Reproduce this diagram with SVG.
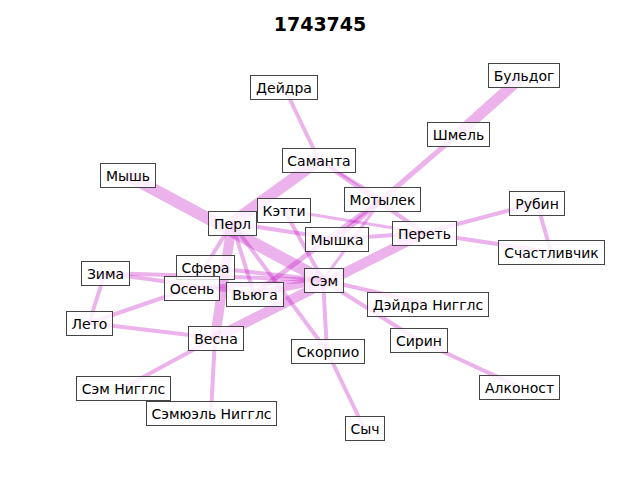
<svg xmlns="http://www.w3.org/2000/svg" width="640" height="480" viewBox="0 0 640 480">
<style>
.e{stroke:#bf00bf;stroke-opacity:0.3;fill:none}
.n rect{fill:#fff;fill-opacity:0.8;stroke:#444;stroke-width:1}
.n text{font-family:"DejaVu Sans",sans-serif;font-size:14px;fill:#000;text-anchor:middle;dominant-baseline:central}
.t{font-family:"DejaVu Sans",sans-serif;font-size:19px;font-weight:bold;text-anchor:middle}
</style>
<rect width="640" height="480" fill="#fff"/>
<text class="t" x="320" y="31">1743745</text>
<g id="edges">
<line class="e" stroke-width="4" x1="284" y1="87" x2="319" y2="160"/>
<line class="e" stroke-width="3" x1="319" y1="160" x2="382" y2="199"/>
<line class="e" stroke-width="4" x1="319" y1="160" x2="424" y2="233"/>
<line class="e" stroke-width="11" x1="524" y1="75" x2="458" y2="134"/>
<line class="e" stroke-width="5" x1="458" y1="134" x2="336" y2="239"/>
<line class="e" stroke-width="12" x1="127" y1="175" x2="323" y2="280"/>
<line class="e" stroke-width="12" x1="319" y1="160" x2="232" y2="223"/>
<line class="e" stroke-width="10" x1="232" y1="223" x2="215" y2="338"/>
<line class="e" stroke-width="10" x1="424" y1="233" x2="215" y2="338"/>
<line class="e" stroke-width="4" x1="336" y1="239" x2="424" y2="233"/>
<line class="e" stroke-width="4" x1="424" y1="233" x2="537" y2="203"/>
<line class="e" stroke-width="4" x1="424" y1="233" x2="551" y2="252"/>
<line class="e" stroke-width="4" x1="537" y1="203" x2="551" y2="252"/>
<line class="e" stroke-width="4" x1="323" y1="280" x2="427" y2="304"/>
<line class="e" stroke-width="4" x1="323" y1="280" x2="418" y2="340"/>
<line class="e" stroke-width="4" x1="418" y1="340" x2="519" y2="387"/>
<line class="e" stroke-width="4" x1="323" y1="280" x2="327" y2="351"/>
<line class="e" stroke-width="4" x1="327" y1="351" x2="364" y2="428"/>
<line class="e" stroke-width="4" x1="232" y1="223" x2="327" y2="351"/>
<line class="e" stroke-width="4" x1="284" y1="210" x2="323" y2="280"/>
<line class="e" stroke-width="4" x1="232" y1="223" x2="254" y2="294"/>
<line class="e" stroke-width="4" x1="232" y1="223" x2="336" y2="239"/>
<line class="e" stroke-width="3" x1="284" y1="210" x2="424" y2="233"/>
<line class="e" stroke-width="5" x1="382" y1="199" x2="254" y2="294"/>
<line class="e" stroke-width="3" x1="382" y1="199" x2="323" y2="280"/>
<line class="e" stroke-width="4" x1="105" y1="273" x2="323" y2="280"/>
<line class="e" stroke-width="4" x1="105" y1="273" x2="254" y2="294"/>
<line class="e" stroke-width="4" x1="205" y1="267" x2="323" y2="280"/>
<line class="e" stroke-width="4" x1="191" y1="288" x2="323" y2="280"/>
<line class="e" stroke-width="7" x1="254" y1="294" x2="323" y2="280"/>
<line class="e" stroke-width="4" x1="89" y1="323" x2="105" y2="273"/>
<line class="e" stroke-width="4" x1="89" y1="323" x2="215" y2="338"/>
<line class="e" stroke-width="4" x1="89" y1="323" x2="191" y2="288"/>
<line class="e" stroke-width="4" x1="215" y1="338" x2="123" y2="388"/>
<line class="e" stroke-width="4" x1="215" y1="338" x2="211" y2="413"/>
<line class="e" stroke-width="4" x1="232" y1="223" x2="205" y2="267"/>
</g>
<g id="n-deidra" class="n"><rect x="250.5" y="75.5" width="67" height="24"/><text x="284" y="87.5">Дейдра</text></g>
<g id="n-buldog" class="n"><rect x="488.5" y="63.5" width="71" height="24"/><text x="524" y="75.5">Бульдог</text></g>
<g id="n-shmel" class="n"><rect x="427.5" y="122.5" width="62" height="24"/><text x="458.5" y="134.5">Шмель</text></g>
<g id="n-samanta" class="n"><rect x="282.5" y="148.5" width="73" height="24"/><text x="319" y="160.5">Саманта</text></g>
<g id="n-mysh" class="n"><rect x="100.5" y="163.5" width="55" height="24"/><text x="128" y="175.5">Мышь</text></g>
<g id="n-motylek" class="n"><rect x="344.5" y="187.5" width="76" height="24"/><text x="382.5" y="199.5">Мотылек</text></g>
<g id="n-rubin" class="n"><rect x="509.5" y="191.5" width="55" height="24"/><text x="537" y="203.5">Рубин</text></g>
<g id="n-ketti" class="n"><rect x="257.5" y="198.5" width="53" height="24"/><text x="284" y="210.5">Кэтти</text></g>
<g id="n-perl" class="n"><rect x="208.5" y="211.5" width="48" height="24"/><text x="232.5" y="223.5">Перл</text></g>
<g id="n-peret" class="n"><rect x="392.5" y="221.5" width="64" height="24"/><text x="424.5" y="233.5">Переть</text></g>
<g id="n-myshka" class="n"><rect x="305.5" y="227.5" width="63" height="24"/><text x="337" y="239.5">Мышка</text></g>
<g id="n-schastlivchik" class="n"><rect x="498.5" y="240.5" width="106" height="24"/><text x="551.5" y="252.5">Счастливчик</text></g>
<g id="n-zima" class="n"><rect x="81.5" y="261.5" width="48" height="24"/><text x="105.5" y="273.5">Зима</text></g>
<g id="n-sfera" class="n"><rect x="176.5" y="255.5" width="58" height="24"/><text x="205.5" y="267.5">Сфера</text></g>
<g id="n-sem" class="n"><rect x="304.5" y="268.5" width="39" height="24"/><text x="324" y="280.5">Сэм</text></g>
<g id="n-osen" class="n"><rect x="164.5" y="276.5" width="55" height="24"/><text x="192" y="288.5">Осень</text></g>
<g id="n-vyuga" class="n"><rect x="226.5" y="282.5" width="57" height="24"/><text x="255" y="294.5">Вьюга</text></g>
<g id="n-deidra-niggls" class="n"><rect x="367.5" y="292.5" width="121" height="24"/><text x="428" y="304.5">Дэйдра Нигглс</text></g>
<g id="n-leto" class="n"><rect x="66.5" y="311.5" width="46" height="24"/><text x="89.5" y="323.5">Лето</text></g>
<g id="n-vesna" class="n"><rect x="188.5" y="326.5" width="55" height="24"/><text x="216" y="338.5">Весна</text></g>
<g id="n-sirin" class="n"><rect x="390.5" y="328.5" width="57" height="24"/><text x="419" y="340.5">Сирин</text></g>
<g id="n-skorpio" class="n"><rect x="291.5" y="339.5" width="73" height="24"/><text x="328" y="351.5">Скорпио</text></g>
<g id="n-alkonost" class="n"><rect x="479.5" y="375.5" width="80" height="24"/><text x="519.5" y="387.5">Алконост</text></g>
<g id="n-sem-niggls" class="n"><rect x="76.5" y="376.5" width="94" height="24"/><text x="123.5" y="388.5">Сэм Нигглс</text></g>
<g id="n-semuel-niggls" class="n"><rect x="146.5" y="401.5" width="130" height="24"/><text x="211.5" y="413.5">Сэмюэль Нигглс</text></g>
<g id="n-sych" class="n"><rect x="345.5" y="416.5" width="39" height="24"/><text x="365" y="428.5">Сыч</text></g>
</svg>
